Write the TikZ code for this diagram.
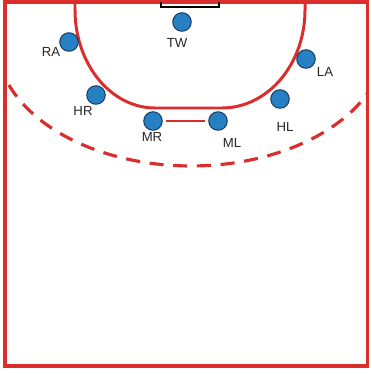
\documentclass[tikz,border=0pt]{standalone}
\usepackage{fontspec}
\setmainfont{Liberation Sans}
\definecolor{feldrot}{RGB}{220,45,45}
\definecolor{spielerblau}{RGB}{38,128,196}
\definecolor{randblau}{RGB}{25,60,95}

\begin{document}
\begin{tikzpicture}[x=0.02cm,y=-0.02cm,
  every node/.style={circle,fill=spielerblau,draw=randblau,semithick,minimum size=0.37cm,inner sep=0pt},
  rolle/.style={draw=none,fill=none,minimum size=0pt,font=\fontsize{7.5}{9}\selectfont,text=black!85},
  linie/.style={draw=feldrot,line width=1.7pt}]
  \useasboundingbox (0,0) rectangle (371,374);

  % Spielfeld
  \draw[feldrot, line width=2.2pt] (5,2) rectangle (367.5,366);

  % Torraum (6m)
  \draw[linie] (75,0) -- (75,10)
    -- plot[domain=180:90,samples=40] ({155+80*cos(\x)},{10+98*sin(\x)})
    -- (222,108)
    -- plot[domain=90:0,samples=40] ({222+83*cos(\x)},{10+98*sin(\x)})
    -- (305,0);

  % Freiwurflinie (9m)
  \begin{scope}
    \clip (5,1) rectangle (367,366);
    \draw[linie, line width=1.8pt, dash pattern=on 8pt off 5.5pt]
      plot[domain=180:0,samples=80] ({191+195*cos(\x)},{40+126*sin(\x)});
  \end{scope}

  % Tor
  \draw[black, line width=1.3pt] (161,2) -- (161,7) -- (219,7) -- (219,2);

  % Spieler
  \node (tw) at (182, 22) {};
  \node (ra) at (69, 42) {};
  \node (la) at (306, 59) {};
  \node (hr) at (96, 95) {};
  \node (hl) at (280, 99) {};
  \node (mr) at (153, 121) {};
  \node (ml) at (218, 121) {};

  % Verbindung MR-ML
  \draw[feldrot, line width=1.6pt, shorten <=2pt, shorten >=2pt] (mr) -- (ml);

  % Beschriftung
  \node[rolle] (tw-t) at (177, 43) {TW};
  \node[rolle] (ra-t) at (51, 52) {RA};
  \node[rolle] (la-t) at (325, 72) {LA};
  \node[rolle] (hr-t) at (83, 111) {HR};
  \node[rolle] (hl-t) at (285, 127) {HL};
  \node[rolle] (mr-t) at (152, 137) {MR};
  \node[rolle] (ml-t) at (232, 143) {ML};
\end{tikzpicture}
\end{document}
